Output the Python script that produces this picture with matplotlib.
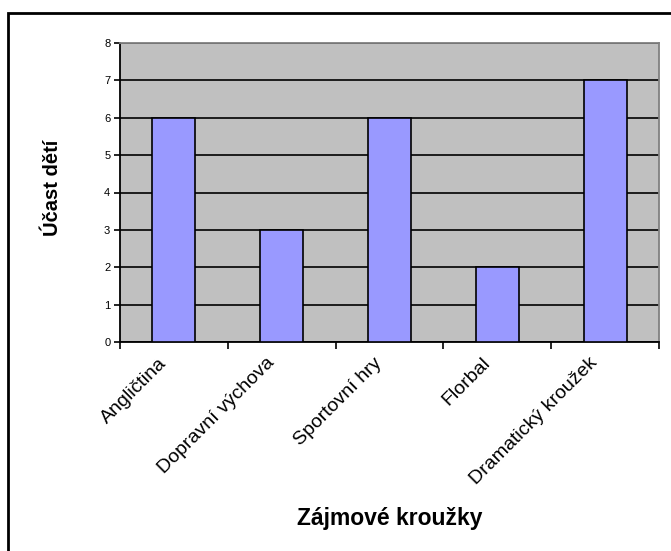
import matplotlib.pyplot as plt
from matplotlib.patches import Rectangle
from matplotlib.transforms import ScaledTranslation

plt.rcParams['font.family'] = ['Liberation Sans', 'DejaVu Sans']

# data
categories = ['Angličtina', 'Dopravní výchova', 'Sportovní hry', 'Florbal', 'Dramatický kroužek']
values = [6, 3, 6, 2, 7]

W, H = 671, 551
fig = plt.figure(figsize=(W / 100, H / 100), dpi=100)

# plot area in pixels: left 120, right 659, top 43, bottom 342
ax = fig.add_axes([120 / W, 1 - 342 / H, (659 - 120) / W, (342 - 43) / H])
ax.set_facecolor('#C0C0C0')

x = list(range(len(categories)))
ax.set_axisbelow(True)
ax.yaxis.grid(True, color='black', linewidth=1.2)
ax.bar(x, values, width=0.4, color='#9999FF', edgecolor='black', linewidth=1.2, zorder=3)

ax.set_xlim(-0.5, len(categories) - 0.5)
ax.set_ylim(0, 8)
ax.set_yticks(range(0, 9))
ax.tick_params(axis='y', labelsize=8, length=4, width=1.2, direction='out', pad=3)

# ticks between categories, labels centred under bars
ax.set_xticks([i - 0.5 for i in range(len(categories) + 1)])
ax.set_xticklabels([])
ax.set_xticks(x, minor=True)
ax.set_xticklabels(categories, minor=True, rotation=45, ha='right', rotation_mode='anchor', fontsize=14)
ax.tick_params(axis='x', which='major', length=5, width=1.2, direction='out')
ax.tick_params(axis='x', which='minor', length=0, pad=9)
shift = ScaledTranslation(-16 / 100, 0, fig.dpi_scale_trans)
for lbl in ax.get_xticklabels(minor=True):
    lbl.set_transform(lbl.get_transform() + shift)

for side in ['left', 'bottom']:
    ax.spines[side].set_color('black')
    ax.spines[side].set_linewidth(1.3)
for side in ['top', 'right']:
    ax.spines[side].set_color('#808080')
    ax.spines[side].set_linewidth(1.3)

fig.text(52 / W, 1 - 188 / H, 'Účast dětí', fontsize=14.5, fontweight='bold',
         rotation=90, ha='center', va='center')
fig.text(390 / W, 1 - 519 / H, 'Zájmové kroužky', fontsize=16.5, fontweight='bold',
         ha='center', va='center')

# outer chart border (only left and top visible, the rest is cropped)
fig.patches.append(Rectangle((8 / W, -0.1), 1.1, 1 - 13 / H + 0.1, transform=fig.transFigure,
                             fill=False, edgecolor='black', linewidth=2))

fig.savefig('out.png', dpi=100)
